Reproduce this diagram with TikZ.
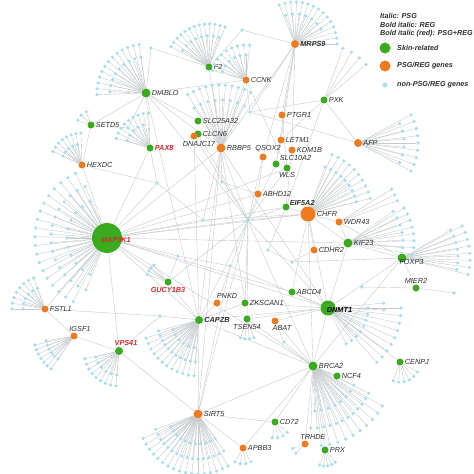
\documentclass[tikz,border=0pt]{standalone}
\usepackage{fontspec}
\setmainfont{Liberation Sans}
\usepackage{xcolor}
\definecolor{skinGreen}{HTML}{3AAA1E}
\definecolor{psgOrange}{HTML}{F07A1E}
\definecolor{leafBlue}{HTML}{A9DCEC}
\definecolor{linkGray}{HTML}{C5CACD}
\definecolor{bothRed}{HTML}{D42A2A}
\definecolor{labelGray}{HTML}{2E2E2E}
\usepackage{tikz}
\usetikzlibrary{calc,backgrounds}

\newcommand{\genefans}{map/40/115/13/245, map/56/112/9/248, map/72/118/7/244,
  diablo/36/182/10/262, diablo/49/178/7/264, f2/31/212/11/290, f2/43/208/7/292,
  mrps/30/252/13/330, mrps/42/248/8/360, ccnk/25/200/14/270, ccnk/35/196/10/276,
  rbbp/48/236/9/300, rbbp/63/238/6/302, setd5/14/200/25/250,
  pax8/24/198/14/264, pax8/35/196/9/268, hexdc/21/205/13/265, hexdc/32/205/9/268,
  pxk/55/290/10/322, afp/46/335/10/390, afp/60/332/7/392,
  chfr/50/290/7/346, chfr/64/292/6/346, wdr/62/328/6/340,
  kif/55/325/8/365, kif/66/328/6/370, foxp/56/330/7/372, foxp/68/332/6/374,
  dnmt/40/0/9/63, dnmt/56/355/7/66, dnmt/73/0/6/50,
  brca/45/25/9/90, brca/62/26/6/92, brca/80/30/6/84,
  cenpj/20/30/16/110, cd/16/40/20/100, prx/16/50/15/110, apbb/16/60/20/120,
  trhde/13/135/25/160, sirt/30/55/10/155, sirt/45/55/7/160, sirt/60/60/6/160,
  capzb/28/100/12/160, capzb/42/95/7/165, capzb/56/95/6/165,
  vps/24/95/14/165, vps/35/95/9/167, igsf/28/125/9/170, igsf/40/125/7/172,
  fstl/22/180/14/250, fstl/33/180/10/250, gucy/22/200/10/230, tsen/20/70/13/120}

\begin{document}
\begin{tikzpicture}[x=1pt, y=-1pt,
    every node/.style={font=\fontsize{7.3}{8}\selectfont},
    gene/.style={circle, inner sep=0pt, minimum size=7pt},
    skin/.style={gene, fill=skinGreen},
    psg/.style={gene, fill=psgOrange},
    leaf/.style={circle, inner sep=0pt, minimum size=3.6pt, fill=leafBlue},
    link/.style={draw=linkGray, line width=0.4pt},
    lab/.style={text=labelGray, inner sep=1pt, font=\fontsize{7.3}{8}\selectfont\itshape},
    reg/.style={lab, font=\fontsize{7.3}{8}\selectfont\bfseries\itshape},
    both/.style={reg, text=bothRed},
    key/.style={text=labelGray, anchor=west, inner sep=0pt,
                font=\fontsize{7.2}{8}\selectfont\bfseries\itshape}]
  \useasboundingbox (0,0) rectangle (474,474);

  \node[skin, label={[lab]right:F2}]       (f2)     at (209,67)  {};
  \node[skin, minimum size=9pt, label={[lab]right:DIABLO}] (diablo) at (146,93) {};
  \node[skin, label={[lab]right:SETD5}]    (setd5)  at (91,125)  {};
  \node[skin, label={[both]right:PAX8}]    (pax8)   at (150,148) {};
  \node[skin, label={[lab]right:SLC25A32}] (slcb)   at (198,121) {};
  \node[skin, label={[lab]right:CLCN6}]    (clcn)   at (198,134) {};
  \node[skin, label={[lab]right:PXK}]      (pxk)    at (324,100) {};
  \node[skin, label={[lab]above right:SLC10A2}] (slcc) at (276,164) {};
  \node[skin, label={[lab]below:WLS}]      (wls)    at (287,168) {};
  \node[skin, label={[reg, yshift=-2pt]above right:EIF5A2}] (eif) at (286,207) {};
  \node[skin, minimum size=9pt, label={[lab]right:KIF23}] (kif) at (348,243) {};
  \node[skin, minimum size=9pt, label={[lab, xshift=9.5pt, yshift=-4pt]center:FOXP3}] (foxp) at (402,258) {};
  \node[skin, label={[lab]above:MIER2}]    (mier)   at (416,288) {};
  \node[skin, label={[lab]right:ABCD4}]    (abcd)   at (292,292) {};
  \node[skin, label={[lab]right:ZKSCAN1}]  (zks)    at (245,303) {};
  \node[skin, minimum size=15pt, label={[reg, text=black, xshift=11.5pt, yshift=-2pt]center:DNMT1}] (dnmt) at (328,308) {};
  \node[skin, minimum size=8pt, label={[reg]right:CAPZB}] (capzb) at (199,320) {};
  \node[skin, label={[lab]below:TSEN54}]   (tsen)   at (247,319) {};
  \node[skin, label={[both]below:GUCY1B3}] (gucy)   at (168,282) {};
  \node[skin, minimum size=30pt, label={[both, xshift=9pt, yshift=-2pt]center:MAP3K1}] (map) at (107,238) {};
  \node[skin, minimum size=8pt, label={[both, xshift=7pt]above:VPS41}] (vps) at (119,351) {};
  \node[skin, minimum size=9pt, label={[lab]right:BRCA2}] (brca) at (313,366) {};
  \node[skin, label={[lab]right:NCF4}]     (ncf)    at (337,376) {};
  \node[skin, label={[lab]right:CENPJ}]    (cenpj)  at (400,362) {};
  \node[skin, label={[lab]right:CD72}]     (cd)     at (275,422) {};
  \node[skin, label={[lab]right:PRX}]      (prx)    at (325,450) {};

  \node[psg, minimum size=8pt, label={[reg]right:MRPS9}] (mrps) at (295,44) {};
  \node[psg, label={[lab]right:CCNK}]      (ccnk)   at (246,80)  {};
  \node[psg, label={[lab]right:PTGR1}]     (ptgr)   at (282,115) {};
  \node[psg, label={[lab]right:LETM1}]     (letm)   at (281,140) {};
  \node[psg, label={[lab]right:KDM1B}]     (kdm)    at (292,150) {};
  \node[psg, label={[lab, xshift=5pt]above:QSOX2}] (qsox) at (263,157) {};
  \node[psg, minimum size=9pt, label={[lab]right:RBBP5}] (rbbp) at (221,148) {};
  \node[psg, label={[lab, xshift=5pt]below:DNAJC17}] (dnaj) at (194,136) {};
  \node[psg, label={[lab]right:ABHD12}]    (abhd)   at (258,194) {};
  \node[psg, minimum size=15pt, label={[lab]right:CHFR}] (chfr) at (308,214) {};
  \node[psg, label={[lab]right:WDR43}]     (wdr)    at (339,222) {};
  \node[psg, label={[lab]right:CDHR2}]     (cdhr)   at (314,250) {};
  \node[psg, minimum size=8pt, label={[lab]right:AFP}] (afp) at (358,143) {};
  \node[psg, label={[lab]right:HEXDC}]     (hexdc)  at (82,165)  {};
  \node[psg, label={[lab]right:FSTL1}]     (fstl)   at (45,309)  {};
  \node[psg, label={[lab, xshift=6pt]above:IGSF1}] (igsf) at (74,336) {};
  \node[psg, label={[lab, xshift=10pt]above:PNKD}] (pnkd) at (217,303) {};
  \node[psg, label={[lab, xshift=7pt]below:ABAT}] (abat) at (275,321) {};
  \node[psg, minimum size=9pt, label={[lab]right:SIRT5}] (sirt) at (198,414) {};
  \node[psg, label={[lab, xshift=8pt]above:TRHDE}] (trhde) at (305,444) {};
  \node[psg, label={[lab]right:APBB3}]     (apbb)   at (243,448) {};

  \node[leaf, minimum size=4.2pt] (cen) at (248,220) {};
  \node[leaf] (m1)  at (203,220) {};
  \node[leaf] (m2)  at (157,183) {};
  \node[leaf] (m3)  at (230,266) {};
  \node[leaf] (m4)  at (178,256) {};
  \node[leaf] (m5)  at (268,250) {};
  \node[leaf] (m6)  at (292,262) {};
  \node[leaf] (m7)  at (222,182) {};
  \node[leaf] (m8)  at (128,128) {};
  \node[leaf] (m9)  at (250,112) {};
  \node[leaf] (m10) at (284,342) {};
  \node[leaf] (m11) at (160,316) {};
  \node[leaf] (m12) at (151,48)  {};
  \node[leaf] (m13) at (242,30)  {};
  \node[leaf] (mierl) at (362,287) {};
  \node[leaf] (mierr) at (454,293) {};

  \foreach \h/\r/\s/\d/\e in \genefans {
    \pgfmathtruncatemacro{\nx}{\s+\d}
    \foreach \a [count=\i] in {\s,\nx,...,\e}
      \node[leaf] (\h-\r-\i) at ($(\h)+(\a:\r)$) {};
  }

  \begin{scope}[on background layer]
    \foreach \h/\r/\s/\d/\e in \genefans {
      \pgfmathtruncatemacro{\nx}{\s+\d}
      \foreach \a [count=\i] in {\s,\nx,...,\e}
        \draw[link] (\h) -- (\h-\r-\i);
    }
    \foreach \u/\v in {map/cen, map/eif, map/chfr, map/abhd, map/wls, map/dnmt, map/abcd,
        map/capzb, map/gucy, map/m1, map/m2, map/pax8, map/hexdc, map/vps, map/brca,
        map/m4, map/rbbp, map/kif, map/fstl,
        diablo/m12, diablo/setd5, diablo/pax8, diablo/rbbp, diablo/slcb, diablo/cen,
        diablo/m8, diablo/ccnk, diablo/capzb, f2/m12, f2/m13, f2/rbbp, m13/mrps,
        mrps/ptgr, mrps/letm, mrps/kdm, mrps/rbbp, mrps/qsox, mrps/slcc, mrps/m9,
        ccnk/rbbp, ccnk/m9, ccnk/wls, pxk/afp, pxk/letm, pxk/eif, pxk/m9, m9/afp,
        ptgr/wls, letm/slcc, kdm/eif, qsox/abhd, qsox/cen,
        rbbp/cen, rbbp/capzb, rbbp/sirt, rbbp/m1, rbbp/dnmt, rbbp/zks, rbbp/m7,
        clcn/cen, dnaj/cen, dnaj/capzb, slcc/cen, wls/cen, abhd/cen,
        eif/chfr, eif/cen, eif/m5, chfr/cen, chfr/wdr, chfr/kif, chfr/cdhr, chfr/dnmt,
        chfr/m1, chfr/brca, chfr/abcd, kif/foxp, kif/dnmt, kif/wdr, kif/cdhr,
        foxp/wdr, foxp/dnmt, foxp/brca, foxp/m6,
        dnmt/abcd, dnmt/brca, dnmt/cen, dnmt/capzb, dnmt/zks, dnmt/tsen, dnmt/abat,
        dnmt/cenpj, dnmt/m3, brca/capzb, brca/sirt, brca/ncf, brca/prx, brca/trhde,
        brca/tsen, brca/abat, brca/cen, brca/m10, brca/apbb, cd/sirt, cd/brca,
        capzb/sirt, capzb/pnkd, capzb/zks, capzb/gucy, capzb/cen, capzb/m11,
        sirt/vps, sirt/cen, sirt/apbb, sirt/m3, vps/igsf, vps/m11,
        fstl/igsf, fstl/m11, gucy/cen, gucy/m4, pnkd/cen, zks/cen, tsen/cen,
        m1/m2, m2/hexdc, m2/pax8, m8/setd5, m3/m4, m5/m6, m6/cdhr, m10/abat, m7/abhd,
        hexdc/setd5, mier/mierl, mier/mierr, mier/foxp}
      \draw[link] (\u) -- (\v);
  \end{scope}

  \node[key] (keyital) at (380,16) {Italic: PSG};
  \node[key] (keybold) at (380,25) {Bold italic: REG};
  \node[key] (keyred)  at (380,34) {Bold italic (red): PSG+REG};
  \node[skin, minimum size=11pt] (keyskin) at (385,48) {};
  \node[key] (keyskintext) at (397,48) {Skin-related};
  \node[psg, minimum size=11pt] (keypsg) at (385,66) {};
  \node[key] (keypsgtext) at (397,66) {PSG/REG genes};
  \node[leaf, minimum size=5pt] (keyleaf) at (385,85) {};
  \node[key] (keyleaftext) at (397,85) {non-PSG/REG genes};
\end{tikzpicture}
\end{document}
